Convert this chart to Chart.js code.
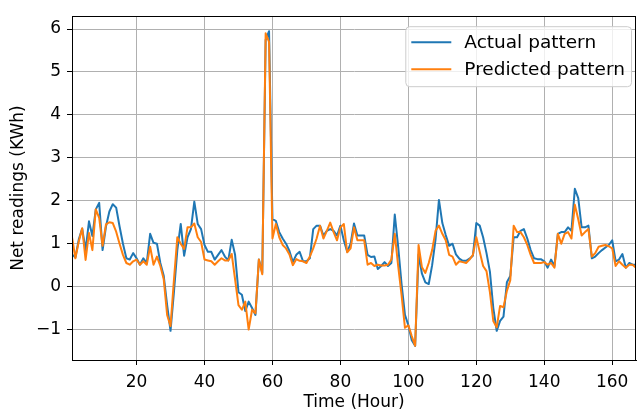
<!DOCTYPE html>
<html>
<head>
<meta charset="utf-8">
<script src="https://cdn.jsdelivr.net/npm/chart.js@4.4.0/dist/chart.umd.min.js"></script>
<style>
  html, body { margin: 0; padding: 0; background: #fff; }
  #wrap { width: 637px; height: 412px; }
</style>
</head>
<body>
<div id="wrap"><canvas id="chart"></canvas></div>
<script>
'use strict'

let actual = [
    0.75, 0.68, 1.10, 1.35, 0.85, 1.52, 1.18, 1.80, 1.95, 0.85,
    1.40, 1.75, 1.92, 1.84, 1.40, 1.00, 0.66, 0.63, 0.78, 0.66,
    0.51, 0.66, 0.55, 1.23, 1.02, 1.00, 0.55, 0.25, -0.43, -1.03,
    -0.13, 0.85, 1.46, 0.72, 1.15, 1.34, 1.98, 1.46, 1.34, 0.97,
    0.81, 0.81, 0.63, 0.74, 0.85, 0.70, 0.61, 1.09, 0.74, -0.13,
    -0.19, -0.57, -0.35, -0.50, -0.66, 0.63, 0.32, 5.75, 5.95, 1.57,
    1.53, 1.27, 1.12, 1.00, 0.83, 0.57, 0.74, 0.81, 0.59, 0.59,
    0.66, 1.34, 1.42, 1.42, 1.19, 1.30, 1.34, 1.30, 1.19, 1.42,
    1.08, 0.81, 1.00, 1.47, 1.19, 1.19, 1.19, 0.74, 0.69, 0.70,
    0.41, 0.48, 0.57, 0.48, 0.55, 1.68, 0.93, 0.06, -0.66, -0.90,
    -1.25, -1.38, 0.75, 0.30, 0.10, 0.06, 0.50, 1.10, 2.02, 1.48,
    1.20, 0.95, 1.00, 0.75, 0.65, 0.60, 0.60, 0.65, 0.72, 1.48,
    1.42, 1.15, 0.78, 0.35, -0.50, -1.03, -0.80, -0.70, 0.10, 0.25,
    1.15, 1.15, 1.30, 1.34, 1.12, 0.85, 0.66, 0.64, 0.64, 0.59,
    0.44, 0.63, 0.48, 1.23, 1.27, 1.27, 1.38, 1.30, 2.28, 2.06,
    1.38, 1.38, 1.42, 0.66, 0.70, 0.78, 0.85, 0.91, 0.97, 1.08,
    0.59, 0.63, 0.76, 0.44, 0.55, 0.51, 0.51]

let predicted = [
    1.15, 0.66, 1.05, 1.36, 0.62, 1.25, 0.85, 1.80, 1.60, 0.95,
    1.45, 1.50, 1.48, 1.28, 1.00, 0.74, 0.55, 0.51, 0.59, 0.63,
    0.51, 0.59, 0.51, 0.93, 0.51, 0.70, 0.48, 0.17, -0.66, -0.92,
    0.15, 1.15, 1.00, 0.88, 1.38, 1.38, 1.47, 1.15, 1.04, 0.63,
    0.61, 0.59, 0.51, 0.59, 0.66, 0.61, 0.61, 0.76, 0.17, -0.43,
    -0.54, -0.35, -1.00, -0.54, -0.62, 0.63, 0.29, 5.90, 5.70, 1.12,
    1.46, 1.15, 0.97, 0.89, 0.75, 0.50, 0.64, 0.60, 0.59, 0.55,
    0.70, 0.89, 1.12, 1.42, 1.12, 1.30, 1.49, 1.27, 1.08, 1.38,
    1.46, 0.80, 0.89, 1.38, 1.08, 1.08, 1.08, 0.51, 0.55, 0.48,
    0.51, 0.49, 0.49, 0.51, 0.63, 1.23, 0.48, -0.20, -0.96, -0.90,
    -1.15, -1.38, 0.97, 0.45, 0.32, 0.55, 0.85, 1.30, 1.42, 1.23,
    1.08, 0.74, 0.70, 0.51, 0.59, 0.57, 0.55, 0.63, 0.74, 1.15,
    0.81, 0.48, 0.36, -0.13, -0.80, -0.95, -0.45, -0.48, -0.10, 0.15,
    1.42, 1.27, 1.27, 1.15, 0.97, 0.74, 0.55, 0.55, 0.55, 0.57,
    0.51, 0.55, 0.44, 1.23, 1.00, 1.23, 1.27, 1.12, 1.91, 1.57,
    1.19, 1.27, 1.34, 0.70, 0.78, 0.93, 0.95, 0.97, 0.94, 0.89,
    0.48, 0.59, 0.51, 0.44, 0.51, 0.51, 0.44]

// hour of each reading, starting at 1
let hours = actual.map((v, i) => i + 1)

let xTicks = [20, 40, 60, 80, 100, 120, 140, 160]
let yTicks = [-1, 0, 1, 2, 3, 4, 5, 6]

let seriesNames = ['Actual pattern', 'Predicted pattern']
let seriesColors = ['#1f77b4', '#ff7f0e']

const FONT = 'DejaVu Sans'

let points = function (values) {
    return values.map((v, i) => ({x: hours[i], y: v}))
}

// matplotlib writes negative ticks with a real minus sign
let tickText = function (v) {
    return v < 0 ? '\u2212' + Math.abs(v) : String(v)
}

// black box round the plot area, like matplotlib spines
let framePlugin = {
    id: 'frame',
    afterDatasetsDraw(chart) {
        let a = chart.chartArea, ctx = chart.ctx
        ctx.save()
        ctx.strokeStyle = '#000'
        ctx.lineWidth = 1
        ctx.strokeRect(Math.round(a.left) + 0.5, Math.round(a.top) + 0.5,
            Math.round(a.right - a.left) - 1, Math.round(a.bottom - a.top))
        ctx.restore()
    }
}

// legend box in the upper right corner
let legendPlugin = {
    id: 'boxLegend',
    afterDraw(chart) {
        let a = chart.chartArea, ctx = chart.ctx
        let ds = chart.data.datasets
        ctx.save()
        ctx.font = '18.5px "' + FONT + '"'
        let textW = Math.max(...ds.map(d => ctx.measureText(d.label).width))
        let pad = 6, handle = 40, gap = 13, rowH = 27
        let w = pad + handle + gap + textW + pad
        let h = rowH * ds.length + 6
        let right = a.right - 5, top = a.top + 10
        let left = right - w
        ctx.beginPath()
        ctx.roundRect(left + 0.5, top + 0.5, w, h, 4)
        ctx.fillStyle = 'rgba(255,255,255,0.8)'
        ctx.fill()
        ctx.strokeStyle = '#cccccc'
        ctx.lineWidth = 1
        ctx.stroke()
        ds.forEach((d, i) => {
            let cy = top + 16 + i * rowH
            ctx.strokeStyle = d.borderColor
            ctx.lineWidth = 2
            ctx.beginPath()
            ctx.moveTo(left + pad, cy)
            ctx.lineTo(left + pad + handle, cy)
            ctx.stroke()
            ctx.fillStyle = '#000'
            ctx.textBaseline = 'middle'
            ctx.fillText(d.label, left + pad + handle + gap, cy + 1)
        })
        ctx.restore()
    }
}

let data = {
    datasets: [{
        label: seriesNames[0],
        data: points(actual),
        borderColor: seriesColors[0],
        backgroundColor: seriesColors[0],
        borderWidth: 2,
        borderJoinStyle: 'round',
        pointRadius: 0,
        order: 2
    }, {
        label: seriesNames[1],
        data: points(predicted),
        borderColor: seriesColors[1],
        backgroundColor: seriesColors[1],
        borderWidth: 2,
        borderJoinStyle: 'round',
        pointRadius: 0,
        order: 1
    }]
}

let config = {
    type: 'line',
    data: data,
    options: {
        responsive: true,
        maintainAspectRatio: false,
        animation: false,
        layout: {padding: {top: 5, right: 1, left: 0, bottom: 0}},
        plugins: {legend: {display: false}, tooltip: {enabled: false}},
        scales: {
            x: {
                type: 'linear',
                min: 1,
                max: 167,
                afterBuildTicks: axis => { axis.ticks = xTicks.map(v => ({value: v})) },
                afterFit: scale => { scale.height = 52 },
                ticks: {color: '#000', font: {family: FONT, size: 17}, padding: 7, maxRotation: 0,
                    callback: v => tickText(v)},
                grid: {color: '#b0b0b0', lineWidth: 1, tickColor: '#000', tickLength: 5},
                border: {color: '#000', width: 1},
                title: {display: true, text: 'Time (Hour)', color: '#000',
                    font: {family: FONT, size: 17}, padding: {top: 0, bottom: -1}}
            },
            y: {
                min: -1.71,
                max: 6.3,
                afterBuildTicks: axis => { axis.ticks = yTicks.map(v => ({value: v})) },
                afterFit: scale => { scale.width = 72 },
                ticks: {color: '#000', font: {family: FONT, size: 17}, padding: 6,
                    callback: v => tickText(v)},
                grid: {color: '#b0b0b0', lineWidth: 1, tickColor: '#000', tickLength: 5},
                border: {color: '#000', width: 1},
                title: {display: true, text: 'Net readings (KWh)', color: '#000',
                    font: {family: FONT, size: 17}, padding: {top: 8, bottom: 0}}
            }
        }
    },
    plugins: [framePlugin, legendPlugin]
}

let myChart = new Chart(document.getElementById('chart'), config)
</script>
</body>
</html>
